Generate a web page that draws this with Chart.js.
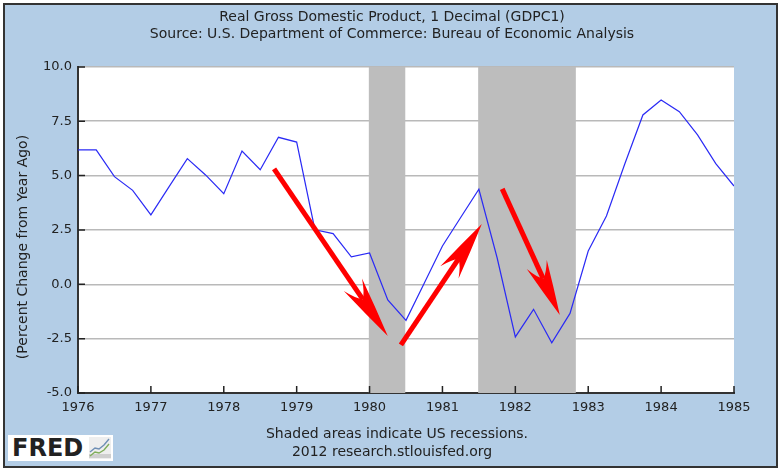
<!DOCTYPE html>
<html>
<head>
<meta charset="utf-8">
<script src="https://cdn.jsdelivr.net/npm/chart.js@4"></script>
<style>
  html, body { margin: 0; padding: 0; background: #fff; }
  #frame { position: absolute; left: 3px; top: 3px; width: 771px; height: 461px; border: 2px solid #333; background: #b3cde6; }
  #wrap { position: absolute; left: 0; top: 0; width: 780px; height: 470px; }
  #logo { position: absolute; left: 8px; top: 435px; width: 105px; height: 26px; background: #fff;
    font: bold 24px "DejaVu Sans"; color: #222; line-height: 26px; text-indent: 4px; overflow: hidden; }
  #logo svg { position: absolute; left: 81px; top: 2px; }
</style>
</head>
<body>
<div id="frame"></div>
<div id="wrap"><canvas id="chart" width="780" height="470"></canvas></div>
<div id="logo">FRED<svg width="22" height="22" viewBox="0 0 22 22">
  <rect x="0" y="0" width="22" height="22" fill="#eeeeee"/>
  <path d="M0 21 H22 V17 H0 Z" fill="#cfcfcf"/>
  <path d="M1 15 L6 11 L10 12 L15 8 L20 2" fill="none" stroke="#6f8fb5" stroke-width="1.4"/>
  <path d="M1 19 L6 15 L10 16 L15 13 L20 7" fill="none" stroke="#7fae5a" stroke-width="1.4"/>
</svg></div>

<script>
const titleLines = [
  'Real Gross Domestic Product, 1 Decimal (GDPC1)',
  'Source: U.S. Department of Commerce: Bureau of Economic Analysis'
];
const yAxisTitle = '(Percent Change from Year Ago)';
const footerLines = ['Shaded areas indicate US recessions.', '2012 research.stlouisfed.org'];

const quarters = [
  1976, 1976.25, 1976.5, 1976.75,
  1977, 1977.25, 1977.5, 1977.75,
  1978, 1978.25, 1978.5, 1978.75,
  1979, 1979.25, 1979.5, 1979.75,
  1980, 1980.25, 1980.5, 1980.75,
  1981, 1981.25, 1981.5, 1981.75,
  1982, 1982.25, 1982.5, 1982.75,
  1983, 1983.25, 1983.5, 1983.75,
  1984, 1984.25, 1984.5, 1984.75,
  1985
];
const gdpChange = [
  6.18, 6.18, 4.95, 4.32,
  3.19, 4.49, 5.78, 5.03,
  4.17, 6.13, 5.27, 6.76,
  6.54, 2.51, 2.33, 1.26,
  1.44, -0.72, -1.66, 0.05,
  1.76, 3.07, 4.37, 1.22,
  -2.42, -1.15, -2.69, -1.34,
  1.53, 3.14, 5.52, 7.79,
  8.48, 7.94, 6.87, 5.55,
  4.52
];

// recession bands, in years
const recessionStart = [1979.99, 1981.49];
const recessionEnd = [1980.49, 1982.83];

// hand drawn arrows on the original, in data units [x0, y0, x1, y1]
const arrows = [
  [1978.69, 5.31, 1980.25, -2.38],
  [1980.43, -2.79, 1981.54, 2.77],
  [1981.82, 4.39, 1982.61, -1.41]
];

const bandsPlugin = {
  id: 'bands',
  beforeDraw(chart) {
    const { ctx, chartArea } = chart;
    ctx.save();
    ctx.fillStyle = '#fff';
    ctx.fillRect(chartArea.left, chartArea.top, chartArea.right - chartArea.left, chartArea.bottom - chartArea.top);
    ctx.restore();
  },
  beforeDatasetsDraw(chart) {
    const { ctx, chartArea, scales } = chart;
    ctx.save();
    ctx.fillStyle = '#bdbdbd';
    recessionStart.forEach((start, i) => {
      const x0 = scales.x.getPixelForValue(start);
      const x1 = scales.x.getPixelForValue(recessionEnd[i]);
      ctx.fillRect(x0, chartArea.top, x1 - x0, chartArea.bottom - chartArea.top);
    });
    ctx.restore();
  }
};

function drawArrow(ctx, x0, y0, x1, y1) {
  const len = Math.hypot(x1 - x0, y1 - y0);
  const ux = (x1 - x0) / len;
  const uy = (y1 - y0) / len;
  const at = (back, side) => [x1 - ux * back - uy * side, y1 - uy * back + ux * side];
  const headLen = Math.min(62, len * 0.4);
  const notch = at(headLen * 0.72, 0);
  ctx.strokeStyle = '#ff0000';
  ctx.fillStyle = '#ff0000';
  ctx.lineWidth = 5;
  ctx.beginPath();
  ctx.moveTo(x0, y0);
  ctx.lineTo(notch[0], notch[1]);
  ctx.stroke();
  const b1 = at(headLen, 11);
  const b2 = at(headLen, -11);
  const c1 = at(headLen * 0.5, 6);
  const c2 = at(headLen * 0.5, -6);
  const n1 = at(headLen * 0.78, 5);
  const n2 = at(headLen * 0.78, -5);
  ctx.beginPath();
  ctx.moveTo(x1, y1);
  ctx.quadraticCurveTo(c1[0], c1[1], b1[0], b1[1]);
  ctx.quadraticCurveTo(n1[0], n1[1], notch[0], notch[1]);
  ctx.quadraticCurveTo(n2[0], n2[1], b2[0], b2[1]);
  ctx.quadraticCurveTo(c2[0], c2[1], x1, y1);
  ctx.fill();
}

const overlayPlugin = {
  id: 'overlay',
  afterDatasetsDraw(chart) {
    const { ctx, chartArea, scales } = chart;
    ctx.save();
    // the axes have short ticks pointing into the plot
    ctx.strokeStyle = '#222';
    ctx.lineWidth = 1.5;
    ctx.beginPath();
    scales.y.ticks.forEach(t => {
      const y = scales.y.getPixelForValue(t.value);
      ctx.moveTo(chartArea.left, y);
      ctx.lineTo(chartArea.left + 7, y);
    });
    scales.x.ticks.forEach(t => {
      const x = scales.x.getPixelForValue(t.value);
      ctx.moveTo(x, chartArea.bottom);
      ctx.lineTo(x, chartArea.bottom - 7);
    });
    ctx.stroke();
    arrows.forEach(a => drawArrow(
      ctx,
      scales.x.getPixelForValue(a[0]), scales.y.getPixelForValue(a[1]),
      scales.x.getPixelForValue(a[2]), scales.y.getPixelForValue(a[3])
    ));
    // footer notes and the axis title, which sits off centre in the original
    ctx.fillStyle = '#222';
    ctx.font = '14px "DejaVu Sans"';
    ctx.textAlign = 'center';
    ctx.textBaseline = 'middle';
    ctx.fillText(footerLines[0], 397, 434);
    ctx.fillText(footerLines[1], 392, 452);
    ctx.translate(23, 247);
    ctx.rotate(-Math.PI / 2);
    ctx.fillText(yAxisTitle, 0, 0);
    ctx.restore();
  }
};

new Chart(document.getElementById('chart'), {
  type: 'line',
  data: {
    datasets: [{
      data: quarters.map((q, i) => ({ x: q, y: gdpChange[i] })),
      borderColor: '#2a2af5',
      borderWidth: 1.2,
      pointRadius: 0,
      tension: 0
    }]
  },
  plugins: [bandsPlugin, overlayPlugin],
  options: {
    responsive: false,
    animation: false,
    layout: { padding: { left: 4, right: 0, top: 0, bottom: 0 } },
    plugins: {
      legend: { display: false },
      tooltip: { enabled: false },
      title: {
        display: true,
        text: titleLines,
        color: '#222',
        font: { family: 'DejaVu Sans', size: 14, weight: 'normal', lineHeight: 1.21 },
        padding: { top: 9, bottom: 24 }
      }
    },
    scales: {
      x: {
        type: 'linear',
        min: 1976,
        max: 1985,
        afterFit(scale) { scale.height = 77; },
        grid: { drawOnChartArea: false, drawTicks: false },
        border: { color: '#333', width: 2 },
        ticks: {
          stepSize: 1,
          autoSkip: false,
          maxRotation: 0,
          padding: 7,
          color: '#222',
          font: { family: 'DejaVu Sans', size: 13 },
          callback: v => String(v)
        }
      },
      y: {
        min: -5,
        max: 10,
        afterFit(scale) { scale.width = 74; },
        grid: { color: '#b9b9b9', lineWidth: 1.5, drawTicks: false },
        border: { color: '#333', width: 2 },
        ticks: {
          stepSize: 2.5,
          padding: 6,
          color: '#222',
          font: { family: 'DejaVu Sans', size: 13 },
          callback: v => v.toFixed(1)
        }
      },
      // empty axis, only keeps the margin right of the plot
      rightGap: {
        type: 'linear',
        position: 'right',
        afterFit(scale) { scale.width = 46; },
        grid: { display: false },
        border: { display: false },
        ticks: { display: false }
      }
    }
  }
});
</script>
</body>
</html>
